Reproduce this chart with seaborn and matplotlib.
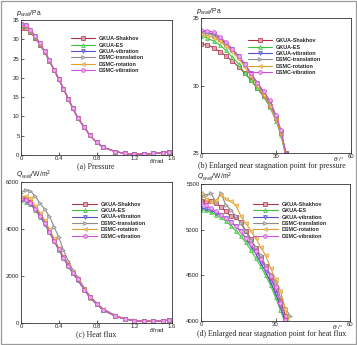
import matplotlib
matplotlib.use("Agg")
import matplotlib.pyplot as plt
import seaborn as sns
from matplotlib.patches import Rectangle

# ---------------- data ----------------
series_names = ["GKUA-Shakhov", "GKUA-ES", "GKUA-vibration",
                "DSMC-translation", "DSMC-rotation", "DSMC-vibration"]

# (a) pressure vs theta (rad)
theta_a = [0.00, 0.05, 0.10, 0.15, 0.20, 0.25, 0.30, 0.35, 0.40, 0.45, 0.50, 0.55,
           0.60, 0.67, 0.73, 0.80, 0.87, 1.00, 1.10, 1.20, 1.30, 1.40, 1.50, 1.57]
p_shakhov = [33.0, 32.8, 31.8, 30.3, 28.6, 26.7, 24.4, 22.0, 19.7, 17.2, 14.6, 12.1,
             9.7, 7.2, 5.1, 3.3, 2.0, 0.9, 0.4, 0.25, 0.25, 0.4, 0.6, 0.8]
p_es = [33.6, 33.4, 32.1, 30.5, 28.7, 26.7, 24.4, 22.0, 19.7, 17.2, 14.6, 12.1,
        9.7, 7.2, 5.1, 3.3, 2.0, 0.9, 0.4, 0.25, 0.25, 0.4, 0.6, 0.8]
p_gvib = [34.0, 33.8, 32.5, 30.8, 29.0, 26.9, 24.6, 22.1, 19.8, 17.2, 14.6, 12.1,
          9.7, 7.2, 5.1, 3.3, 2.0, 0.9, 0.4, 0.25, 0.25, 0.4, 0.6, 0.8]
p_trans = [33.8, 33.6, 32.3, 30.7, 28.9, 26.8, 24.5, 22.1, 19.7, 17.2, 14.6, 12.1,
           9.7, 7.2, 5.1, 3.3, 2.0, 0.9, 0.4, 0.25, 0.25, 0.4, 0.6, 0.8]
p_rot = [33.7, 33.5, 32.2, 30.6, 28.8, 26.8, 24.5, 22.0, 19.7, 17.2, 14.6, 12.1,
         9.7, 7.2, 5.1, 3.3, 2.0, 0.9, 0.4, 0.25, 0.25, 0.4, 0.6, 0.8]
p_dvib = [33.9, 33.8, 32.5, 30.8, 29.0, 26.9, 24.6, 22.1, 19.8, 17.2, 14.6, 12.1,
          9.7, 7.2, 5.1, 3.3, 2.0, 0.9, 0.4, 0.25, 0.25, 0.4, 0.6, 0.8]

# (b) pressure near stagnation point vs theta (deg)
theta_b = [0, 2.5, 5, 7.5, 10, 12.5, 15, 17.5, 20, 22.5, 25, 27.5, 30, 32, 34]
pb_shakhov = [33.1, 33.0, 32.8, 32.5, 32.2, 31.8, 31.4, 30.9, 30.4, 29.8, 29.2, 28.5, 27.6, 26.5, 25.0]
pb_es = [33.7, 33.5, 33.3, 33.0, 32.6, 32.1, 31.6, 30.9, 30.4, 29.8, 29.2, 28.4, 27.4, 26.3, 24.7]
pb_gvib = [34.0, 33.95, 33.8, 33.5, 33.1, 32.7, 32.2, 31.6, 30.9, 30.2, 29.5, 28.7, 27.7, 26.6, 24.9]
pb_trans = [33.9, 33.85, 33.7, 33.4, 33.0, 32.6, 32.1, 31.5, 30.8, 30.1, 29.4, 28.6, 27.6, 26.5, 24.8]
pb_rot = [33.8, 33.7, 33.55, 33.3, 32.9, 32.5, 32.0, 31.4, 30.7, 30.0, 29.3, 28.5, 27.5, 26.4, 24.8]
pb_dvib = [34.1, 34.05, 33.95, 33.6, 33.2, 32.7, 32.2, 31.6, 30.9, 30.2, 29.6, 28.9, 27.8, 26.7, 24.9]

# (c) heat flux vs theta (rad)
q_shakhov = [5300, 5260, 5130, 4900, 4610, 4280, 3910, 3530, 3160, 2790, 2450, 2140,
             1860, 1430, 1100, 810, 570, 295, 175, 100, 75, 75, 95, 120]
q_es = [5220, 5170, 5050, 4820, 4530, 4210, 3860, 3480, 3110, 2750, 2410, 2110,
        1840, 1410, 1080, 795, 555, 285, 170, 100, 75, 75, 95, 120]
q_gvib = [5250, 5200, 5080, 4850, 4560, 4240, 3880, 3500, 3130, 2770, 2430, 2130,
          1850, 1420, 1090, 800, 560, 290, 170, 100, 75, 75, 95, 120]
q_trans = [5550, 5680, 5620, 5400, 5100, 4850, 4550, 4100, 3650, 3100, 2650, 2250,
           1950, 1500, 1160, 860, 610, 320, 190, 115, 85, 85, 105, 130]
q_rot = [5350, 5400, 5300, 5000, 4700, 4380, 4000, 3600, 3200, 2820, 2470, 2160,
         1880, 1440, 1110, 820, 575, 300, 178, 105, 80, 80, 100, 125]
q_dvib = [5280, 5230, 5100, 4860, 4570, 4250, 3890, 3510, 3140, 2780, 2440, 2135,
          1855, 1425, 1095, 805, 565, 292, 172, 100, 75, 75, 95, 120]

# (d) heat flux near stagnation point vs theta (deg)
theta_d = [0, 2, 4, 6, 8, 10, 12, 14, 16, 18, 20, 22, 24, 26, 28, 30, 32, 34, 36]
qd_shakhov = [5310, 5315, 5310, 5290, 5250, 5200, 5150, 5140, 5080, 4990, 4900, 4800,
              4700, 4600, 4480, 4350, 4220, 4060, 3920]
qd_es = [5220, 5210, 5190, 5165, 5135, 5095, 5045, 4990, 4930, 4860, 4780, 4690,
         4600, 4500, 4390, 4260, 4120, 3970, 3850]
qd_gvib = [5235, 5225, 5210, 5185, 5160, 5125, 5085, 5035, 4980, 4905, 4825, 4740,
           4640, 4540, 4425, 4300, 4160, 3990, 3850]
qd_trans = [5360, 5380, 5400, 5300, 5400, 5270, 5215, 5150, 5070, 4980, 4890, 4810,
            4720, 4610, 4510, 4430, 4260, 4140, 4050]
qd_rot = [5405, 5340, 5305, 5320, 5380, 5340, 5310, 5270, 5150, 5070, 4990, 4910,
          4810, 4720, 4580, 4460, 4330, 4130, 3960]
qd_dvib = [5290, 5265, 5235, 5200, 5165, 5125, 5080, 5040, 4985, 4910, 4840, 4770,
           4680, 4580, 4490, 4370, 4200, 4010, 3900]

# ---------------- style ----------------
colors = ["#a83448", "#3cc03c", "#5050c8", "#8c8c8c", "#e0a030", "#d050d8"]
faces = ["#e8a0b0", "#90e890", "#9898f0", "#c8c8c8", "#f5d090", "#f0a8f0"]
markers = ["s", "^", "v", ">", "<", "o"]

sns.set_style("ticks")
plt.rcParams["font.family"] = ["Liberation Sans", "DejaVu Sans"]

fig = plt.figure(figsize=(3.57, 3.45), dpi=100)
W, H = 357.0, 345.0


def add_ax(x0, y0, x1, y1):
    return fig.add_axes([x0 / W, 1 - y1 / H, (x1 - x0) / W, (y1 - y0) / H])


ax_a = add_ax(21, 20, 172, 155)
ax_b = add_ax(201, 18, 351, 153)
ax_c = add_ax(21, 182, 172, 323)
ax_d = add_ax(201, 184, 350, 321)


def draw(ax, xs, ys_list, ms):
    for name, ys, c, fc, m in zip(series_names, ys_list, colors, faces, markers):
        sns.lineplot(x=xs, y=ys, ax=ax, color=c, marker=m, markersize=ms,
                     markerfacecolor=fc, markeredgecolor=c, markeredgewidth=0.5,
                     linewidth=0.8, label=name, sort=False, errorbar=None)


draw(ax_a, theta_a, [p_shakhov, p_es, p_gvib, p_trans, p_rot, p_dvib], 2.7)
draw(ax_b, theta_b, [pb_shakhov, pb_es, pb_gvib, pb_trans, pb_rot, pb_dvib], 2.7)
draw(ax_c, theta_a, [q_shakhov, q_es, q_gvib, q_trans, q_rot, q_dvib], 2.7)
draw(ax_d, theta_d, [qd_shakhov, qd_es, qd_gvib, qd_trans, qd_rot, qd_dvib], 2.7)

ax_a.set_xlim(0, 1.6); ax_a.set_ylim(0, 35)
ax_a.set_xticks([0, 0.4, 0.8, 1.2, 1.6]); ax_a.set_xticklabels(["0", "0.4", "0.8", "1.2", "1.6"])
ax_a.set_yticks(range(0, 36, 5))
ax_b.set_xlim(0, 60); ax_b.set_ylim(25, 35)
ax_b.set_xticks([0, 30, 60]); ax_b.set_yticks([25, 30, 35])
ax_c.set_xlim(0, 1.6); ax_c.set_ylim(0, 6000)
ax_c.set_xticks([0, 0.4, 0.8, 1.2, 1.6]); ax_c.set_xticklabels(["0", "0.4", "0.8", "1.2", "1.6"])
ax_c.set_yticks([0, 2000, 4000, 6000])
ax_d.set_xlim(0, 60); ax_d.set_ylim(4000, 5500)
ax_d.set_xticks([0, 30, 60]); ax_d.set_yticks([4000, 4500, 5000, 5500])

legend_pos = {ax_a: (0.33, 0.88), ax_b: (0.31, 0.85), ax_c: (0.34, 0.86), ax_d: (0.35, 0.87)}
for ax in (ax_a, ax_b, ax_c, ax_d):
    ax.set_xlabel(""); ax.set_ylabel("")
    for s in ax.spines.values():
        s.set_visible(True); s.set_linewidth(0.6); s.set_color("#333333")
    ax.tick_params(direction="in", length=2.5, width=0.5, labelsize=4.3, pad=1.0,
                   top=False, right=False)
    ax.minorticks_off()
    ax.legend(loc="upper left", bbox_to_anchor=legend_pos[ax], frameon=False,
              prop={"family": "Liberation Sans", "weight": "bold", "size": 3.9},
              handlelength=4.5, handletextpad=0.7, labelspacing=0.25,
              borderaxespad=0, borderpad=0)

# axis labels
lab = dict(fontsize=4.9, ha="left", va="bottom")
ax_a.text(-0.03, 1.01, r"$p_{wall}$/Pa", transform=ax_a.transAxes, **lab)
ax_b.text(-0.03, 1.01, r"$p_{wall}$/Pa", transform=ax_b.transAxes, **lab)
ax_c.text(-0.03, 1.005, r"$Q_{wall}$/W/m$^2$", transform=ax_c.transAxes, **lab)
ax_d.text(-0.03, 1.005, r"$Q_{wall}$/W/m$^2$", transform=ax_d.transAxes, **lab)
xl = dict(fontsize=4.4, ha="right", va="top")
ax_a.text(0.955, -0.018, r"$\theta$/rad", transform=ax_a.transAxes, **xl)
ax_c.text(0.955, -0.018, r"$\theta$/rad", transform=ax_c.transAxes, **xl)
ax_b.text(0.955, -0.018, r"$\theta$ /°", transform=ax_b.transAxes, **xl)
ax_d.text(0.955, -0.018, r"$\theta$ /°", transform=ax_d.transAxes, **xl)

# captions
cap = dict(fontsize=5.7, family="Liberation Serif", ha="center", va="center")
fig.text(96 / W, 1 - 166 / H, "(a) Pressure", **cap)
fig.text(272 / W, 1 - 166 / H, "(b) Enlarged near stagnation point for pressure", **cap)
fig.text(96 / W, 1 - 334 / H, "(c) Heat flux", **cap)
fig.text(272 / W, 1 - 334 / H, "(d) Enlarged near stagnation point for heat flux", **cap)

fig.patches.append(Rectangle((0.003, 0.003), 0.994, 0.994, transform=fig.transFigure,
                             fill=False, edgecolor="#9a9a9a", linewidth=0.9))

fig.savefig("out.png", dpi=100)
